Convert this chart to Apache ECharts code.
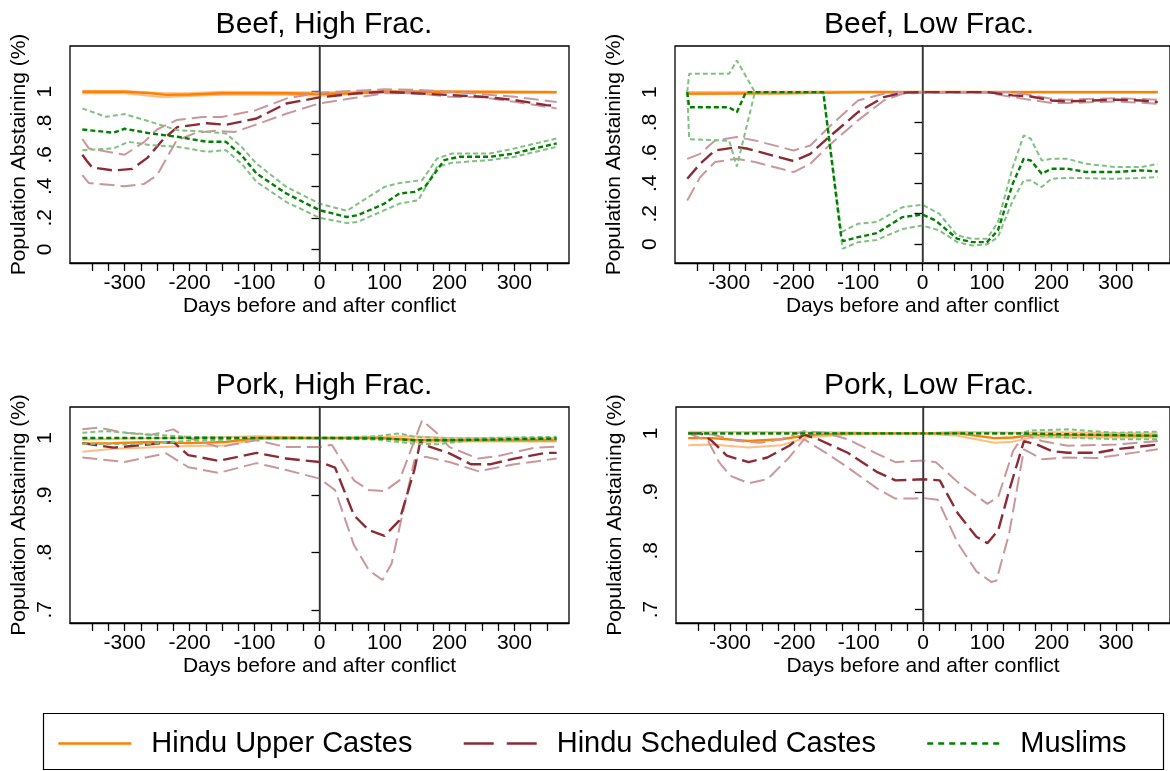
<!DOCTYPE html>
<html>
<head>
<meta charset="utf-8">
<script src="https://cdn.jsdelivr.net/npm/echarts@6/dist/echarts.min.js"></script>
<style>
  html, body { margin: 0; padding: 0; background: #fff; }
  #main { width: 1170px; height: 771px; }
</style>
</head>
<body>
<div id="main"></div>
<script>
// group names
const groups = ["Hindu Upper Castes", "Hindu Scheduled Castes", "Muslims"];
const panelTitles = ["Beef, High Frac.", "Beef, Low Frac.", "Pork, High Frac.", "Pork, Low Frac."];

// x axis: days before / after conflict
const xTicks = [-350, -325, -300, -275, -250, -225, -200, -175, -150, -125, -100, -75, -50, -25, 0,
  25, 50, 75, 100, 125, 150, 175, 200, 225, 250, 275, 300, 325, 350];
const xLabels = [-300, -200, -100, 0, 100, 200, 300];
const beefTicks = [0, 0.2, 0.4, 0.6, 0.8, 1];
const porkTicks = [0.7, 0.8, 0.9, 1];

// ---- Beef, High Frac. ----
const bhUpperEst = [[-365,1.0],[-300,1.0],[-260,0.99],[-235,0.98],[-200,0.982],[-150,0.99],[-100,0.99],[-50,0.99],[0,0.985],[50,0.99],[100,1.0],[200,1.0],[365,0.997]];
const bhUpperLo = [[-365,0.99],[-300,0.99],[-240,0.965],[-200,0.972],[-150,0.98],[-50,0.98],[0,0.975],[50,0.985],[100,0.995],[365,0.993]];
const bhUpperHi = [[-365,1.005],[-300,1.005],[-240,0.99],[-200,0.99],[-150,1.0],[0,0.995],[100,1.005],[365,1.0]];
const bhSchedEst = [[-365,0.60],[-358,0.56],[-350,0.52],[-317,0.50],[-288,0.51],[-265,0.58],[-240,0.70],[-219,0.775],[-173,0.80],[-144,0.79],[-97,0.83],[-51,0.925],[0,0.964],[59,0.99],[100,1.0],[146,0.99],[200,0.979],[250,0.968],[300,0.947],[349,0.915],[365,0.91]];
const bhSchedHi = [[-365,0.70],[-355,0.64],[-300,0.60],[-270,0.68],[-250,0.76],[-220,0.82],[-180,0.84],[-150,0.84],[-100,0.88],[-50,0.958],[0,0.994],[50,1.005],[100,1.015],[150,1.012],[200,1.0],[300,0.968],[365,0.935]];
const bhSchedLo = [[-365,0.47],[-355,0.42],[-300,0.40],[-270,0.415],[-250,0.47],[-220,0.69],[-190,0.74],[-160,0.752],[-130,0.745],[-100,0.788],[-50,0.862],[0,0.926],[50,0.958],[100,0.99],[150,0.99],[200,0.968],[250,0.965],[300,0.936],[365,0.894]];
const bhMuslimEst = [[-365,0.76],[-317,0.74],[-300,0.765],[-260,0.735],[-219,0.714],[-173,0.682],[-144,0.682],[-120,0.597],[-97,0.481],[-51,0.354],[0,0.248],[42,0.205],[59,0.216],[100,0.29],[123,0.354],[146,0.364],[163,0.40],[192,0.566],[215,0.587],[262,0.587],[300,0.608],[331,0.64],[365,0.672]];
const bhMuslimHi = [[-365,0.894],[-329,0.841],[-300,0.858],[-260,0.809],[-219,0.756],[-173,0.746],[-144,0.735],[-120,0.65],[-97,0.544],[-51,0.396],[0,0.29],[42,0.244],[100,0.396],[123,0.42],[158,0.439],[181,0.576],[204,0.608],[262,0.608],[300,0.64],[365,0.703]];
const bhMuslimLo = [[-365,0.629],[-317,0.64],[-294,0.682],[-260,0.661],[-219,0.65],[-173,0.619],[-144,0.629],[-120,0.544],[-97,0.428],[-51,0.30],[0,0.20],[42,0.167],[59,0.174],[100,0.248],[123,0.29],[152,0.311],[181,0.523],[204,0.549],[262,0.566],[300,0.587],[365,0.65]];

// ---- Beef, Low Frac. ----
const blUpperEst = [[-365,0.99],[-200,0.993],[-100,1.0],[365,1.0]];
const blUpperLo = [[-365,0.985],[-200,0.99],[-100,0.998],[365,0.998]];
const blUpperHi = [[-365,1.0],[-100,1.003],[365,1.002]];
const blSchedEst = [[-365,0.43],[-345,0.528],[-322,0.616],[-288,0.638],[-271,0.627],[-200,0.546],[-174,0.594],[-145,0.704],[-100,0.868],[-60,0.967],[-31,0.996],[0,1.0],[100,1.0],[140,0.978],[168,0.971],[200,0.945],[225,0.939],[300,0.95],[339,0.945],[365,0.934]];
const blSchedHi = [[-365,0.561],[-345,0.594],[-322,0.682],[-288,0.704],[-260,0.682],[-200,0.616],[-174,0.649],[-145,0.77],[-100,0.945],[-60,0.989],[-31,1.0],[140,1.0],[200,0.956],[225,0.95],[300,0.96],[365,0.95]];
const blSchedLo = [[-365,0.287],[-345,0.44],[-322,0.54],[-288,0.561],[-260,0.54],[-200,0.474],[-174,0.528],[-145,0.649],[-100,0.814],[-60,0.945],[-31,0.989],[0,0.996],[100,0.996],[140,0.967],[200,0.928],[225,0.928],[300,0.939],[365,0.923]];
const blMuslimEst = [[-365,1.0],[-362,0.90],[-300,0.90],[-288,0.868],[-274,1.0],[-154,1.0],[-126,0.046],[-123,0.02],[-100,0.046],[-71,0.072],[-31,0.178],[0,0.195],[20,0.156],[54,0.035],[77,0.013],[100,0.013],[117,0.09],[140,0.397],[157,0.561],[168,0.55],[185,0.463],[200,0.496],[225,0.496],[254,0.474],[300,0.474],[339,0.485],[365,0.478]];
const blMuslimHi = [[-365,1.0],[-362,1.12],[-300,1.12],[-288,1.208],[-260,1.0],[-154,1.0],[-126,0.079],[-100,0.134],[-71,0.145],[-31,0.243],[0,0.259],[26,0.2],[54,0.057],[77,0.035],[100,0.035],[117,0.145],[140,0.507],[157,0.715],[168,0.693],[185,0.55],[200,0.561],[225,0.561],[254,0.528],[300,0.507],[339,0.507],[365,0.528]];
const blMuslimLo = [[-365,1.0],[-362,0.69],[-300,0.68],[-288,0.51],[-260,1.0],[-154,1.0],[-124,-0.03],[-100,0.013],[-71,0.028],[-31,0.10],[0,0.123],[26,0.09],[54,0.013],[77,-0.009],[100,-0.002],[117,0.046],[140,0.287],[157,0.419],[168,0.419],[185,0.375],[200,0.43],[225,0.436],[300,0.43],[365,0.44]];

// ---- Pork, High Frac. ----
const phUpperEst = [[-365,0.99],[-317,0.991],[-260,0.993],[-202,0.991],[-144,0.993],[-97,1.0],[88,1.0],[146,0.997],[200,0.996],[365,0.996]];
const phUpperHi = [[-365,0.997],[-300,0.999],[-200,1.0],[-97,1.003],[0,1.0],[100,1.002],[140,1.003],[200,1.0],[365,1.0]];
const phUpperLo = [[-365,0.976],[-317,0.981],[-200,0.986],[-144,0.987],[-97,0.998],[0,1.0],[100,0.999],[146,0.993],[200,0.994],[365,0.994]];
const phSchedEst = [[-365,0.991],[-317,0.983],[-260,0.989],[-225,0.993],[-202,0.97],[-155,0.96],[-97,0.974],[-51,0.964],[0,0.958],[24,0.948],[53,0.865],[76,0.839],[100,0.829],[123,0.856],[146,0.944],[155,0.993],[163,0.987],[200,0.973],[233,0.954],[262,0.954],[300,0.964],[349,0.974],[365,0.974]];
const phSchedHi = [[-365,1.015],[-340,1.018],[-300,1.009],[-260,1.005],[-225,1.015],[-207,1.002],[-155,0.984],[-97,0.996],[-51,0.984],[0,0.984],[19,0.988],[53,0.926],[76,0.909],[100,0.907],[123,0.926],[158,1.031],[181,1.008],[200,0.984],[244,0.964],[273,0.968],[331,0.983],[365,0.985]];
const phSchedLo = [[-365,0.966],[-300,0.958],[-236,0.973],[-202,0.949],[-155,0.939],[-97,0.956],[-51,0.944],[0,0.929],[24,0.909],[53,0.813],[76,0.769],[97,0.752],[111,0.781],[146,0.961],[163,0.967],[200,0.958],[244,0.942],[300,0.954],[365,0.964]];
const phMuslimEst = [[-365,1.0],[0,1.0],[100,0.999],[146,0.996],[200,0.996],[365,0.999]];
const phMuslimHi = [[-365,1.009],[-330,1.012],[-260,1.006],[-202,1.002],[-97,1.0],[0,1.0],[88,1.003],[123,1.008],[146,1.002],[200,0.999],[365,1.002]];
const phMuslimLo = [[-365,0.99],[-300,0.989],[-260,0.99],[-202,0.995],[-144,0.997],[-97,1.0],[0,1.0],[88,0.997],[146,0.99],[181,0.989],[233,0.996],[365,0.997]];

// ---- Pork, Low Frac. ----
const plUpperEst = [[-365,0.992],[-328,0.992],[-271,0.987],[-220,0.99],[-180,0.997],[-117,1.0],[54,1.0],[111,0.992],[140,0.993],[168,0.997],[225,0.997],[365,0.996]];
const plUpperHi = [[-365,1.003],[-200,1.002],[-150,1.002],[0,1.0],[50,1.003],[150,1.001],[200,1.002],[365,1.0]];
const plUpperLo = [[-365,0.98],[-328,0.981],[-271,0.976],[-220,0.98],[-180,0.993],[-117,0.998],[0,1.0],[54,0.996],[111,0.984],[140,0.986],[168,0.993],[365,0.993]];
const plSchedEst = [[-365,1.0],[-345,1.0],[-328,0.987],[-305,0.962],[-271,0.951],[-242,0.959],[-208,0.979],[-185,0.998],[-163,0.99],[-117,0.967],[-71,0.934],[-43,0.92],[-20,0.921],[0,0.922],[26,0.92],[54,0.864],[83,0.824],[100,0.813],[117,0.835],[134,0.903],[157,0.987],[177,0.981],[200,0.97],[225,0.967],[271,0.967],[300,0.973],[365,0.981]];
const plSchedHi = [[-365,1.0],[-328,0.998],[-288,0.987],[-254,0.984],[-220,0.99],[-185,1.004],[-151,1.001],[-117,0.99],[-71,0.965],[-43,0.951],[0,0.954],[20,0.951],[54,0.917],[100,0.88],[117,0.892],[140,0.97],[157,0.998],[185,0.987],[225,0.979],[300,0.981],[365,0.987]];
const plSchedLo = [[-365,1.0],[-334,0.987],[-317,0.951],[-300,0.928],[-271,0.915],[-242,0.922],[-208,0.959],[-185,0.99],[-151,0.967],[-117,0.942],[-71,0.906],[-43,0.889],[-14,0.889],[0,0.89],[23,0.887],[54,0.813],[83,0.765],[106,0.747],[114,0.749],[134,0.83],[157,0.973],[185,0.956],[225,0.959],[271,0.958],[365,0.973]];
const plMuslimEst = [[-365,1.0],[150,1.0],[200,0.999],[300,0.997],[365,0.996]];
const plMuslimHi = [[-365,1.0],[150,1.0],[168,1.005],[225,1.007],[300,1.001],[365,1.003]];
const plMuslimLo = [[-365,1.0],[150,1.0],[168,0.997],[225,0.993],[300,0.99],[365,0.99]];

const panels = [
  [bhUpperHi, bhUpperLo, bhUpperEst, bhSchedHi, bhSchedLo, bhSchedEst, bhMuslimHi, bhMuslimLo, bhMuslimEst],
  [blUpperHi, blUpperLo, blUpperEst, blSchedHi, blSchedLo, blSchedEst, blMuslimHi, blMuslimLo, blMuslimEst],
  [phUpperHi, phUpperLo, phUpperEst, phSchedHi, phSchedLo, phSchedEst, phMuslimHi, phMuslimLo, phMuslimEst],
  [plUpperHi, plUpperLo, plUpperEst, plSchedHi, plSchedLo, plSchedEst, plMuslimHi, plMuslimLo, plMuslimEst]
];

const font = "'Liberation Sans', Arial, sans-serif";
// line looks: ci colour, estimate colour, dash in plot, dash in legend
const looks = [
  { ci: "#ffbd80", est: "#ff7f00", dash: "solid", keyDash: "solid" },
  { ci: "#c9979b", est: "#8c2b36", dash: [15, 6], keyDash: [30, 13] },
  { ci: "#80c080", est: "#008000", dash: [5, 3], keyDash: [6, 5] }
];

const grids = [
  { left: 70, top: 46, width: 499, height: 217 },
  { left: 675, top: 46, width: 499, height: 217 },
  { left: 70, top: 407, width: 499, height: 216 },
  { left: 676, top: 407, width: 499, height: 216 }
];
const yRanges = [[-0.087, 1.29], [-0.124, 1.303], [0.677, 1.054], [0.677, 1.045]];
const yNameGaps = [40, 50, 40, 50];

function tickFmt(v) {
  if (v === 0 || v === 1) return String(v);
  return String(v).replace("0.", ".");
}

let series = [];
panels.forEach((lines, p) => {
  lines.forEach((data, k) => {
    let g = Math.floor(k / 3);
    let isEst = k % 3 === 2;
    let s = {
      name: isEst ? groups[g] : groups[g] + " CI",
      type: "line",
      xAxisIndex: p,
      yAxisIndex: p,
      data: data,
      symbol: "none",
      silent: true,
      lineStyle: {
        color: isEst ? looks[g].est : looks[g].ci,
        width: isEst ? 2.4 : 2,
        type: looks[g].dash
      },
      itemStyle: { color: isEst ? looks[g].est : looks[g].ci },
      z: 2 + g
    };
    // vertical line at the conflict date
    if (k === 0) {
      s.markLine = {
        silent: true,
        symbol: "none",
        label: { show: false },
        lineStyle: { color: "#444", width: 1.5, type: "solid" },
        data: [{ xAxis: 0 }]
      };
    }
    series.push(s);
  });
});

let option = {
  animation: false,
  backgroundColor: "#fff",
  textStyle: { fontFamily: font, color: "#000" },
  title: panelTitles.map((t, i) => ({
    text: t,
    left: i % 2 === 0 ? 319 : 924,
    top: i < 2 ? 5 : 366,
    textAlign: "center",
    textStyle: { fontSize: 30, fontWeight: "normal", color: "#000", fontFamily: font }
  })),
  grid: grids.map(g => Object.assign({ show: true, borderColor: "#000", borderWidth: 1.3, containLabel: false }, g)),
  xAxis: grids.map((g, i) => ({
    type: "value",
    gridIndex: i,
    min: -384,
    max: 384,
    name: "Days before and after conflict",
    nameLocation: "middle",
    nameGap: 33,
    nameTextStyle: { fontSize: 21, color: "#000", fontFamily: font },
    axisLine: { onZero: false, lineStyle: { color: "#000", width: 1.3 } },
    axisTick: { customValues: xTicks, length: 8, lineStyle: { color: "#000", width: 1.3 } },
    axisLabel: { customValues: xLabels, fontSize: 21, color: "#000", margin: 10, fontFamily: font },
    splitLine: { show: false }
  })),
  yAxis: grids.map((g, i) => ({
    type: "value",
    gridIndex: i,
    min: yRanges[i][0],
    max: yRanges[i][1],
    name: "Population Abstaining (%)",
    nameLocation: "middle",
    nameRotate: 90,
    nameGap: yNameGaps[i],
    nameTextStyle: { fontSize: 21, color: "#000", fontFamily: font },
    axisLine: { show: true, lineStyle: { color: "#000", width: 1.3 } },
    axisTick: { customValues: i < 2 ? beefTicks : porkTicks, length: 8, lineStyle: { color: "#000", width: 1.3 } },
    axisLabel: {
      customValues: i < 2 ? beefTicks : porkTicks,
      rotate: 90,
      fontSize: 21,
      color: "#000",
      margin: 14,
      fontFamily: font,
      formatter: tickFmt
    },
    splitLine: { show: false }
  })),
  legend: {
    data: groups.map((n, g) => ({
      name: n,
      itemStyle: { opacity: 0 },
      lineStyle: { type: looks[g].keyDash, width: 2.6, color: looks[g].est }
    })),
    left: 57,
    top: 729,
    padding: 0,
    itemWidth: 73,
    itemHeight: 14,
    itemGap: 50,
    selectedMode: false,
    textStyle: { fontSize: 29, color: "#000", fontFamily: font, padding: [0, 0, 0, 15] }
  },
  graphic: [
    {
      type: "rect",
      shape: { x: 43.5, y: 713.5, width: 1120, height: 56 },
      style: { fill: "none", stroke: "#000", lineWidth: 1.2 },
      silent: true
    }
  ],
  series
};

let chart = echarts.init(document.getElementById("main"));
chart.setOption(option);
</script>
</body>
</html>
